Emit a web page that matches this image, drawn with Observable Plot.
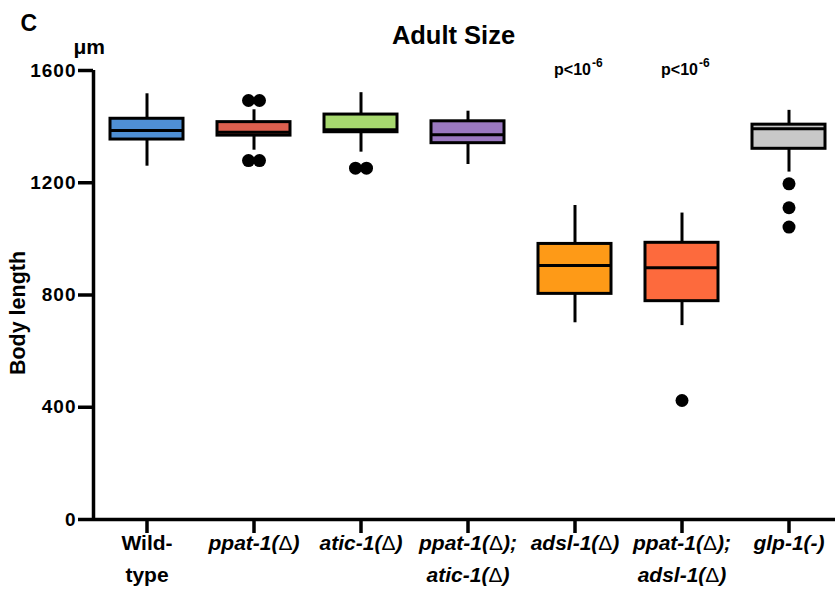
<!DOCTYPE html>
<html><head><meta charset="utf-8">
<script src="https://cdn.jsdelivr.net/npm/d3@7"></script>
<script src="https://cdn.jsdelivr.net/npm/@observablehq/plot@0.6"></script>
<style>
body{margin:0;background:#fff}
g[aria-label="y-axis tick label"] text{letter-spacing:1px}
</style>
</head><body><div id="chart"></div>
<script>
// ---- data ----
const categories = ["Wild-type","ppat-1(Δ)","atic-1(Δ)","ppat-1(Δ); atic-1(Δ)","adsl-1(Δ)","ppat-1(Δ); adsl-1(Δ)","glp-1(-)"];
const tickLabels = ["Wild-\ntype","ppat-1(Δ)","atic-1(Δ)","ppat-1(Δ);\natic-1(Δ)","adsl-1(Δ)","ppat-1(Δ);\nadsl-1(Δ)","glp-1(-)"];
const italicLabel = [false,true,true,true,true,true,true];
const whiskerLow  = [1259,1316,1309,1265,701,691,1238];
const q1          = [1354,1368,1380,1341,804,778,1321];
const median      = [1386,1380,1389,1371,905,897,1392];
const q3          = [1428,1416,1443,1419,982,986,1407];
const whiskerHigh = [1517,1460,1521,1455,1119,1092,1458];
const boxColors   = ["#4f8fd4","#dc5f4e","#a7d96f","#9a78c0","#fe9a17","#fd6a3d","#c8c8c8"];
const outlierCategory = ["ppat-1(Δ)","ppat-1(Δ)","atic-1(Δ)","ppat-1(Δ); adsl-1(Δ)","glp-1(-)","glp-1(-)","glp-1(-)"];
const outlierValue    = [1493,1279,1252,424,1196,1111,1042];
const outlierCount    = [2,2,2,1,1,1,1];
const pValueCategories = ["adsl-1(Δ)","ppat-1(Δ); adsl-1(Δ)"];
const yTicks = [0,400,800,1200,1600];

const boxes = categories.map((c,i)=>({cat:c,label:tickLabels[i],italic:italicLabel[i],lo:whiskerLow[i],q1:q1[i],med:median[i],q3:q3[i],hi:whiskerHigh[i]}));
const outliers = outlierCategory.map((c,i)=>({cat:c,value:outlierValue[i],count:outlierCount[i]}));
const pairs = outliers.filter(d=>d.count===2);
const singles = outliers.filter(d=>d.count===1);

const SW = 3;
const plot = Plot.plot({
  width: 835, height: 589,
  marginTop: 70, marginBottom: 70, marginLeft: 93, marginRight: 0,
  style: {fontFamily: "'Liberation Sans', Arial, sans-serif", fontWeight: "bold", color: "#000", background: "#fff", overflow: "visible"},
  x: {type: "band", domain: categories, range: [93, 842], padding: 0},
  y: {domain: [0, 1600]},
  color: {type: "ordinal", domain: categories, range: boxColors},
  marks: [
    Plot.ruleX(boxes, {x: "cat", y1: "lo", y2: "hi", stroke: "#000", strokeWidth: SW}),
    Plot.ruleY(boxes, {x: "cat", y: "lo", insetLeft: 34.5, insetRight: 34.5, stroke: "#000", strokeWidth: SW}),
    Plot.ruleY(boxes, {x: "cat", y: "hi", insetLeft: 34.5, insetRight: 34.5, stroke: "#000", strokeWidth: SW}),
    Plot.barY(boxes, {x: "cat", y1: "q1", y2: "q3", fill: "cat", stroke: "#000", strokeWidth: SW, insetLeft: 17, insetRight: 17}),
    Plot.tickY(boxes, {x: "cat", y: "med", stroke: "#000", strokeWidth: SW, insetLeft: 17, insetRight: 17}),
    Plot.dot(pairs, {x: "cat", y: "value", r: 6.5, fill: "#000", dx: -5.5}),
    Plot.dot(pairs, {x: "cat", y: "value", r: 6.5, fill: "#000", dx: 5.5}),
    Plot.dot(singles, {x: "cat", y: "value", r: 6.5, fill: "#000"}),
    // axes
    Plot.ruleY([0], {stroke: "#000", strokeWidth: 3.5}),
    Plot.ruleX([categories[0]], {x: d => d, y1: 0, y2: 1600, dx: -53.5, stroke: "#000", strokeWidth: 3.5}),
    Plot.axisY({ticks: yTicks, tickFormat: d => String(d), tickSize: 15, tickPadding: 2, strokeWidth: 3.5, fontSize: 19, label: null}),
    Plot.axisX({tickSize: 14, strokeWidth: 3.5, tickFormat: () => "", label: null}),
    // x labels
    Plot.text(boxes.filter(d=>!d.italic), {x: "cat", text: "label", frameAnchor: "bottom", lineAnchor: "top", dy: 7, fontSize: 21, lineHeight: 1.55}),
    Plot.text(boxes.filter(d=>d.italic), {x: "cat", text: "label", frameAnchor: "bottom", lineAnchor: "top", dy: 7, fontSize: 21, lineHeight: 1.55, fontStyle: "italic"}),
    // p-values
    Plot.text(pValueCategories, {x: d => d, text: () => "p<10", frameAnchor: "top", textAnchor: "end", lineAnchor: "bottom", dx: 16, dy: 4, fontSize: 16}),
    Plot.text(pValueCategories, {x: d => d, text: () => "-6", frameAnchor: "top", textAnchor: "start", lineAnchor: "bottom", dx: 17, dy: -4, fontSize: 12}),
    // titles
    Plot.text(["Adult Size"], {frameAnchor: "top", textAnchor: "middle", dx: -11, dy: -27, lineAnchor: "bottom", fontSize: 25.5}),
    Plot.text(["C"], {frameAnchor: "top-left", textAnchor: "start", lineAnchor: "bottom", dx: -73, dy: -40, fontSize: 23}),
    Plot.text(["μm"], {frameAnchor: "top-left", textAnchor: "start", lineAnchor: "bottom", dx: -20, dy: -17, fontSize: 21}),
    Plot.text(["Body length"], {frameAnchor: "left", textAnchor: "middle", rotate: -90, dx: -75, dy: 18, fontSize: 21.5})
  ]
});

// Δ glyphs upright and regular weight
const ns = "http://www.w3.org/2000/svg";
plot.querySelectorAll("text, tspan").forEach(el => {
  if (el.children.length === 0 && el.textContent.includes("Δ")) {
    const parts = el.textContent.split("Δ");
    el.textContent = "";
    parts.forEach((p, i) => {
      if (i > 0) {
        const t = document.createElementNS(ns, "tspan");
        t.setAttribute("font-style", "normal");
        t.setAttribute("font-weight", "normal");
        t.textContent = "Δ";
        el.appendChild(t);
      }
      el.appendChild(document.createTextNode(p));
    });
  }
});
document.getElementById("chart").appendChild(plot);
</script>
</body></html>
